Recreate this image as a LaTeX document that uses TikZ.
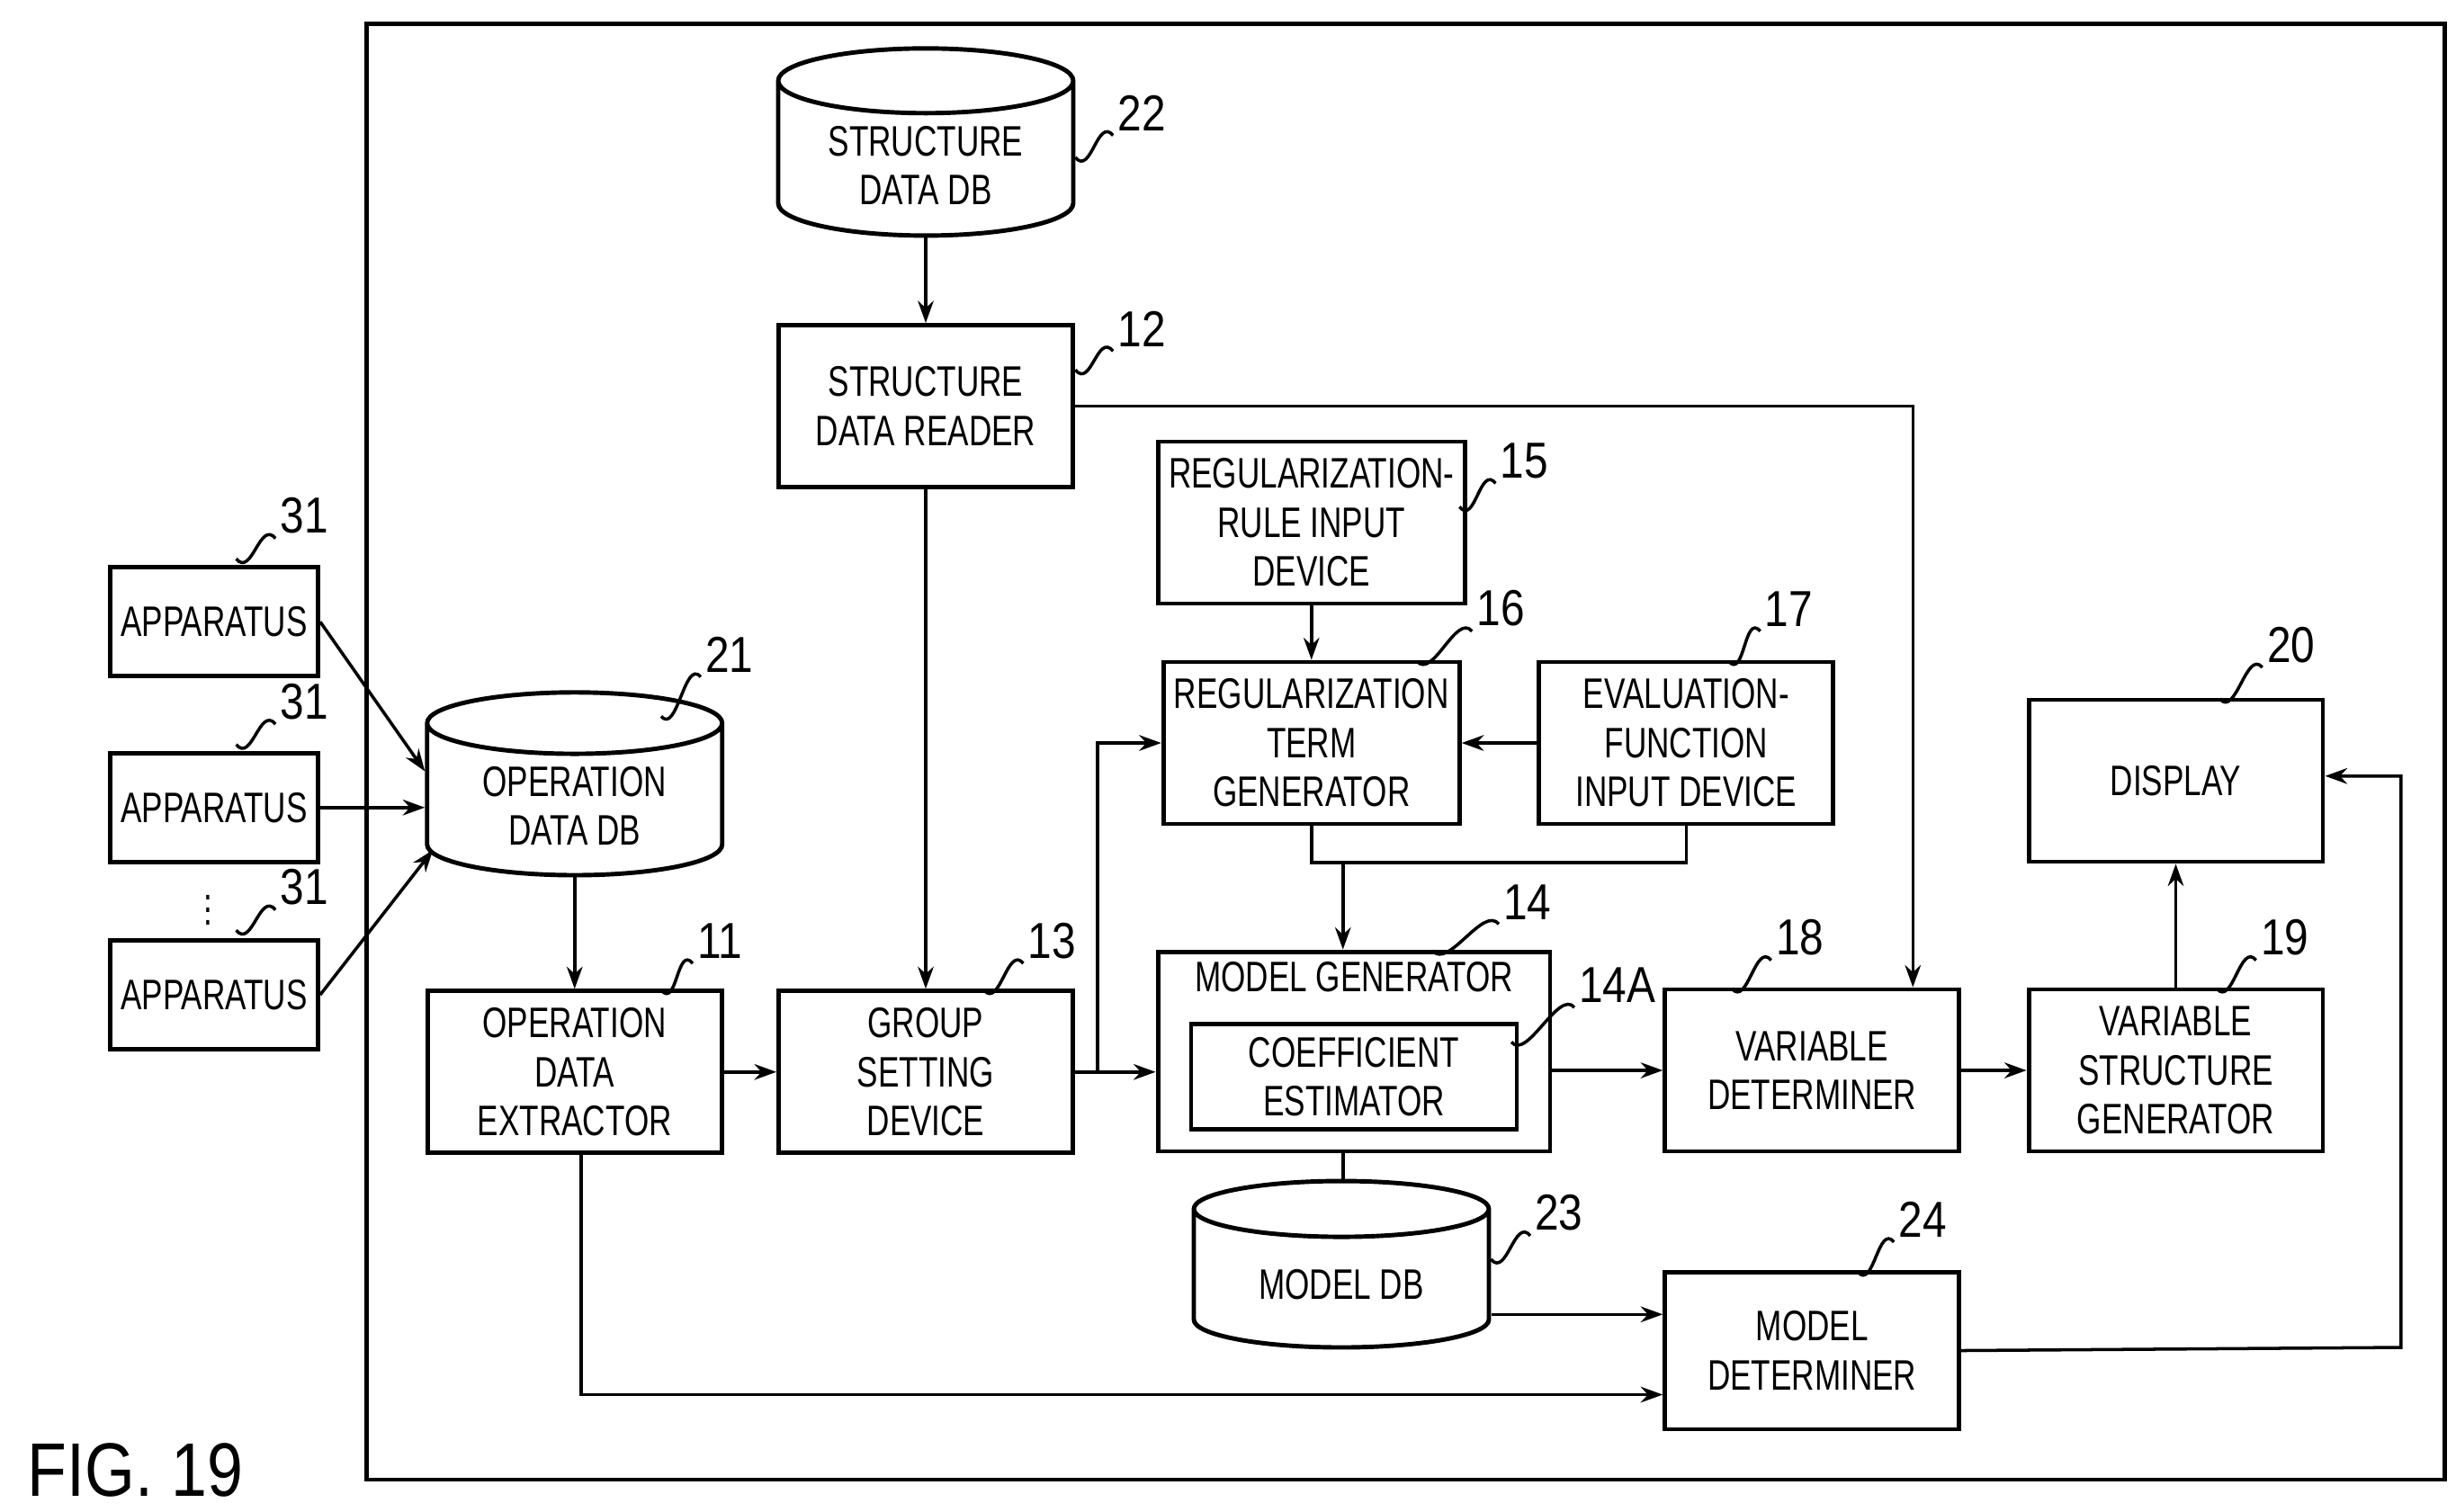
\documentclass[tikz,border=0pt]{standalone}
\usepackage{fontspec}
\setmainfont{Liberation Sans}[FakeStretch=0.74]
\newfontfamily\numfont{Liberation Sans}[FakeStretch=0.85]
\usetikzlibrary{shapes.geometric,arrows.meta}
\newcommand{\refnum}[5]{% start x, start y, label x, label y, text
  \draw (#1,#2) .. controls +(10,12) and +(-10,-12) .. (#3,#4);
  \node [num, anchor=south west] at (#3,#4) {#5};}
\begin{document}
\begin{tikzpicture}[
  x=0.0175cm, y=-0.0175cm,
  line width=1pt,
  font=\fontsize{13.5}{15.5}\selectfont,
  box/.style={draw, line width=1.4pt, minimum width=3.27cm, minimum height=1.8cm, align=center},
  abox/.style={draw, line width=1.4pt, minimum width=2.05cm, minimum height=1.21cm, align=center},
  db/.style={draw, line width=1.4pt, cylinder, shape border rotate=90, aspect=0.3, minimum width=3.28cm, minimum height=1.72cm, align=center},
  num/.style={font=\numfont\fontsize{16}{18}\selectfont, inner sep=1pt},
  arw/.style={-{Stealth[length=7pt,width=5pt]}, line width=1pt}
  ]
\useasboundingbox (0,0) rectangle (1560,960);

% frame
\draw [line width=1.4pt] (233,15) rectangle (1553,940);
\node [font=\numfont\fontsize{24}{26}\selectfont, anchor=west] (fig) at (10,934) {FIG. 19};

% apparatus
\node [abox] (a1) at (136,395) {APPARATUS};
\node [abox] (a2) at (136,513) {APPARATUS};
\node [abox] (a3) at (136,632) {APPARATUS};
\node (dots) at (132,572) {$\vdots$};

% databases
\node [db] (s22) at (588,105) {STRUCTURE\\DATA DB};
\node [db, minimum height=1.9cm] (s21) at (365,512) {OPERATION\\DATA DB};
\node [db, minimum height=1.85cm] (s23) at (852,816) {MODEL DB};

% upper blocks
\node [box] (s12) at (588,258) {STRUCTURE\\DATA READER};
\node [box] (s15) at (833,332) {REGULARIZATION-\\RULE INPUT\\DEVICE};
\node [box] (s16) at (833,472) {REGULARIZATION\\TERM\\GENERATOR};
\node [box] (s17) at (1071,472) {EVALUATION-\\FUNCTION\\INPUT DEVICE};
\node [box] (s20) at (1382,496) {DISPLAY};

% lower blocks
\node [box] (s11) at (365,681) {OPERATION\\DATA\\EXTRACTOR};
\node [box] (s13) at (588,681) {GROUP\\SETTING\\DEVICE};
\node [draw, line width=1.4pt, minimum width=4.36cm, minimum height=2.22cm] (s14) at (860,668) {};
\node [anchor=north] (s14t) at (s14.north) {MODEL GENERATOR};
\node [draw, line width=1.4pt, minimum width=3.62cm, minimum height=1.17cm, align=center] (s14A) at (860,684) {COEFFICIENT\\ESTIMATOR};
\node [box] (s18) at (1151,680) {VARIABLE\\DETERMINER};
\node [box] (s19) at (1382,680) {VARIABLE\\STRUCTURE\\GENERATOR};
\node [box, minimum height=1.75cm] (s24) at (1151,858) {MODEL\\DETERMINER};

% reference numbers
\refnum{150}{355}{175}{342}{31}
\refnum{150}{473}{175}{460}{31}
\refnum{150}{591}{175}{578}{31}
\refnum{683}{100}{707}{86}{22}
\refnum{683}{235}{707}{223}{12}
\refnum{927}{322}{950}{307}{15}
\refnum{900}{420}{935}{401}{16}
\refnum{1098}{420}{1118}{401}{17}
\refnum{1410}{444}{1437}{424}{20}
\refnum{420}{455}{445}{430}{21}
\refnum{420}{629}{440}{612}{11}
\refnum{625}{629}{650}{612}{13}
\refnum{910}{604}{952}{587}{14}
\refnum{960}{662}{1000}{640}{14A}
\refnum{1100}{628}{1125}{610}{18}
\refnum{1408}{628}{1433}{610}{19}
\refnum{947}{800}{972}{785}{23}
\refnum{1180}{808}{1203}{789}{24}

% connections
\draw [arw] (a1.east) -- (s21.west |- 0,490) coordinate (j1);
\draw [arw] (a2.east) -- (s21.west |- a2.east);
\draw [arw] (a3.east) -- (275,540);
\draw [arw] (s22) -- (s12);
\draw [arw] (s21) -- (s11);
\draw [arw] (s12) -- (s13);
\draw [arw] (s12.east) -- (1215,258) -- (s18.north -| 1215,0);
\draw [arw] (s15) -- (s16);
\draw [arw] (s17) -- (s16);
\draw (s16.south) -- (833,548) -- (1071,548) -- (s17.south);
\draw [arw] (853,548) -- (s14.north -| 853,0);
\draw [arw] (s11) -- (s13);
\draw [arw] (s13.east) -- (s14.west |- s13.east);
\draw [arw] (697,681) -- (697,472) -- (s16.west);
\draw [arw] (s14.east |- s18.west) -- (s18.west);
\draw [arw] (s18) -- (s19);
\draw [arw] (s19) -- (s20);
\draw (s14.south -| 853,0) -- (s23.north -| 853,0);
\draw [arw] (s23.east |- 0,835) -- (s24.west |- 0,835);
\draw [arw] (s11.south -| 369,0) -- (369,886) -- (s24.west |- 0,886);
\draw [arw] (s24.east) -- (1525,856) -- (1525,493) -- (s20.east |- 0,493);
\end{tikzpicture}
\end{document}
